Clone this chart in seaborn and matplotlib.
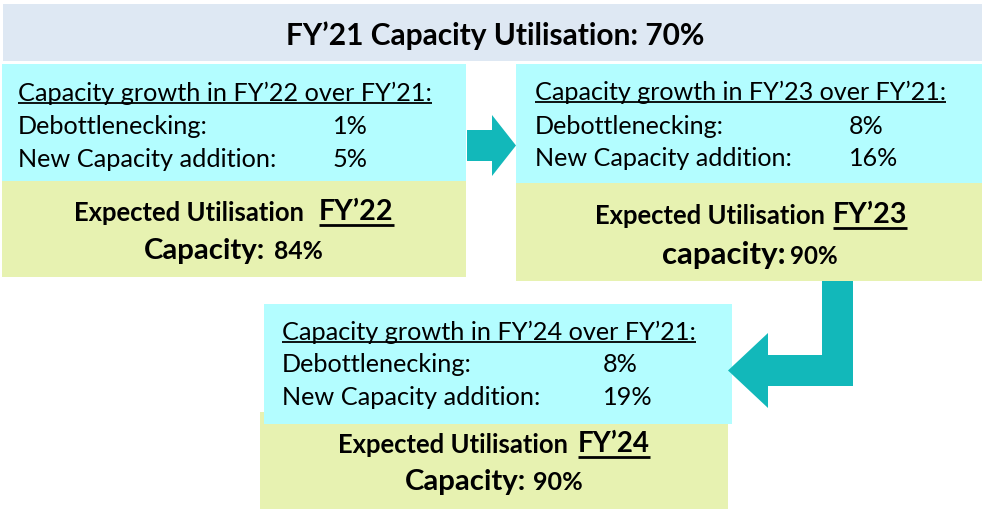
import matplotlib
matplotlib.use("Agg")
import matplotlib.pyplot as plt
from matplotlib.patches import Rectangle, Polygon
import seaborn as sns

# ---------------- data ----------------
base_year = "FY\u201921"
base_utilisation = 70
years = ["FY\u201922", "FY\u201923", "FY\u201924"]
debottlenecking = [1, 8, 8]
new_capacity = [5, 16, 19]
expected_utilisation = [84, 90, 90]
capacity_words = ["Capacity:", "capacity:", "Capacity:"]

# ---------------- style ----------------
sns.set_theme(style="white")
FONT = ["Lato", "DejaVu Sans"]
plt.rcParams["font.family"] = FONT

BANNER = "#DEE8F3"
CYAN = "#B3FDFF"
GREEN = "#E7F2B1"
TEAL = "#12B8BA"

fig = plt.figure(figsize=(9.82, 5.10), dpi=100)
ax = fig.add_axes([0, 0, 1, 1])
ax.set_xlim(0, 982)
ax.set_ylim(510, 0)
ax.axis("off")
fig.canvas.draw()
renderer = fig.canvas.get_renderer()


def fit(text, x, y, width, weight="normal", ha="left", size0=20, zorder=5):
    t = ax.text(x, y, text, fontsize=size0, fontweight=weight, ha=ha,
                va="center", family=FONT, color="black", zorder=zorder)
    w = t.get_window_extent(renderer).width
    t.set_fontsize(size0 * width / w)
    return t


def plain(text, x, y, size, weight="normal", ha="left", zorder=5):
    return ax.text(x, y, text, fontsize=size, fontweight=weight, ha=ha,
                   va="center", family=FONT, color="black", zorder=zorder)


def underline(t, y, lw):
    bb = t.get_window_extent(renderer)
    inv = ax.transData.inverted()
    (x0, _), (x1, _) = inv.transform([(bb.x0, bb.y0), (bb.x1, bb.y1)])
    ax.plot([x0, x1], [y, y], color="black", lw=lw, solid_capstyle="butt", zorder=6)


def rect(x0, y0, x1, y1, color, z=1):
    ax.add_patch(Rectangle((x0, y0), x1 - x0, y1 - y0, facecolor=color,
                           edgecolor="none", zorder=z))


# ---------------- banner ----------------
rect(3, 5, 982, 62, BANNER)
fit(f"{base_year} Capacity Utilisation: {base_utilisation}%", 495, 36, 420,
    weight="bold", ha="center")

# ---------------- panels layout ----------------
layout = [
    dict(cyan=(2, 65, 466, 182), green=(2, 182, 466, 278), tx=18, tw=415, vx=333,
         rows=(93, 127, 160), eu_y=213, eu_x=74, eu_w=231, fy_x=319, fy_w=74,
         cap_y=251, cap_x=144, cap_w=122, pct_x=274, pct_w=49),
    dict(cyan=(516, 65, 982, 184), green=(516, 184, 982, 282), tx=535, tw=413, vx=849,
         rows=(92, 126, 159), eu_y=216, eu_x=595, eu_w=230, fy_x=833, fy_w=74,
         cap_y=255, cap_x=662, cap_w=124, pct_x=790, pct_w=48),
    dict(cyan=(264, 305, 732, 425), green=(260, 413, 728, 510), tx=282, tw=414, vx=603,
         rows=(332, 365, 398), eu_y=445, eu_x=338, eu_w=230, fy_x=578, fy_w=72,
         cap_y=482, cap_x=405, cap_w=122, pct_x=533, pct_w=50),
]

for i, L in enumerate(layout):
    g = L["green"]
    c = L["cyan"]
    rect(*g, GREEN, z=1)
    rect(*c, CYAN, z=2)
    h = fit(f"Capacity growth in {years[i]} over {base_year}:", L["tx"], L["rows"][0],
            L["tw"], zorder=5)
    fs = h.get_fontsize()
    underline(h, L["rows"][0] + 10.5, 1.3)
    plain("Debottlenecking:", L["tx"], L["rows"][1], fs)
    plain(f"{debottlenecking[i]}%", L["vx"], L["rows"][1], fs)
    plain("New Capacity addition:", L["tx"], L["rows"][2], fs)
    plain(f"{new_capacity[i]}%", L["vx"], L["rows"][2], fs)

    fit("Expected Utilisation", L["eu_x"], L["eu_y"], L["eu_w"], weight="bold")
    fy = fit(years[i], L["fy_x"], L["eu_y"] - 1, L["fy_w"], weight="bold")
    underline(fy, L["eu_y"] + 12.5, 2.0)
    fit(capacity_words[i], L["cap_x"], L["cap_y"], L["cap_w"], weight="bold")
    fit(f"{expected_utilisation[i]}%", L["pct_x"], L["cap_y"] + 1, L["pct_w"], weight="bold")

# ---------------- arrows ----------------
arrow1 = [(467, 131), (492, 131), (492, 116), (516, 146.5), (492, 177), (492, 162), (467, 162)]
ax.add_patch(Polygon(arrow1, closed=True, facecolor=TEAL, edgecolor="none", zorder=4))
arrow2 = [(822, 282), (853, 282), (853, 387), (768, 387), (768, 409), (728, 371.5),
          (768, 334), (768, 356), (822, 356)]
ax.add_patch(Polygon(arrow2, closed=True, facecolor=TEAL, edgecolor="none", zorder=4))

fig.savefig("out.png", dpi=100, facecolor="white")
